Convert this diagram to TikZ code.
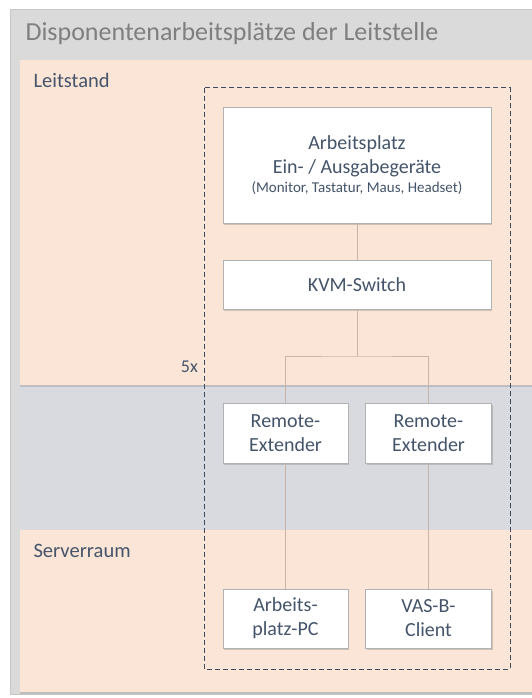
\documentclass[tikz,border=0pt]{standalone}
\usepackage{fontspec}
\setmainfont{Carlito}
\usetikzlibrary{positioning,shadows}

\definecolor{peach}{HTML}{FBE5D6}
\definecolor{framegray}{HTML}{DADADA}
\definecolor{bandgray}{HTML}{D9DADF}
\definecolor{titlegray}{HTML}{7F7F7F}
\definecolor{inkblue}{HTML}{44546A}
\definecolor{wirecol}{HTML}{C8B5AA}

\begin{document}
\begin{tikzpicture}[
  x=1pt, y=-1pt,
  box/.style={draw=gray!60, fill=white, text=inkblue, align=center, inner sep=0pt,
    font=\fontsize{20}{24}\selectfont,
    drop shadow={opacity=0.35, shadow xshift=1.2pt, shadow yshift=-1.5pt}},
  zone/.style={text=inkblue, anchor=west, font=\fontsize{20.5}{24}\selectfont},
  wire/.style={draw=wirecol, line width=0.9pt}
]
\useasboundingbox (0,0) rectangle (531,698);
\fill[white] (0,0) rectangle (531,698);

% outer frame and the three zones
\filldraw[fill=framegray, draw=gray!45] (10,9) rectangle (540,694);
\fill[bandgray] (20,385) rectangle (540,530);
\fill[peach, drop shadow={opacity=0.3, shadow xshift=0pt, shadow yshift=-1.5pt}] (20,530) rectangle (540,692);
\fill[peach, drop shadow={opacity=0.3, shadow xshift=0pt, shadow yshift=-1.5pt}] (20,60) rectangle (540,385);

\node[anchor=west, text=titlegray, font=\fontsize{26}{30}\selectfont] (title) at (22,34) {Disponentenarbeitsplätze der Leitstelle};
\node[zone] (leitstand) at (30,80) {Leitstand};
\node[zone] (serverraum) at (30,551) {Serverraum};

% one workplace, five times
\draw[inkblue!90!black, dash pattern=on 5pt off 3pt, line width=1pt] (204,88) rectangle (510,669);
\node[anchor=east, text=inkblue, font=\fontsize{18}{20}\selectfont, inner sep=0pt] (count) at (198,367) {5x};

\node[box, minimum width=268pt, minimum height=116pt] (ap) at (357,165)
  {Arbeitsplatz\\Ein- / Ausgabegeräte\\[-5pt]{\fontsize{15}{17}\selectfont (Monitor, Tastatur, Maus, Headset)}};
\node[box, minimum width=268pt, minimum height=49pt] (kvm) at (357,284.5) {KVM-Switch};
\node[box, minimum width=125pt, minimum height=60pt] (re1) at (285.5,433) {Remote-\\Extender};
\node[box, minimum width=126pt, minimum height=60pt] (re2) at (428.5,433) {Remote-\\Extender};
\node[box, minimum width=125pt, minimum height=59pt] (pc) at (285.5,618.5) {Arbeits-\\platz-PC};
\node[box, minimum width=126pt, minimum height=59pt] (vas) at (428.5,618.5) {VAS-B-\\Client};
\coordinate (split) at (357,356);

\draw[wire] (ap.south) -- (kvm.north);
\draw[wire] (kvm.south) -- (split);
\draw[wire] (re1.north) |- (split) -| (re2.north);
\draw[wire] (re1.south) -- (pc.north);
\draw[wire] (re2.south) -- (vas.north);

\end{tikzpicture}
\end{document}
